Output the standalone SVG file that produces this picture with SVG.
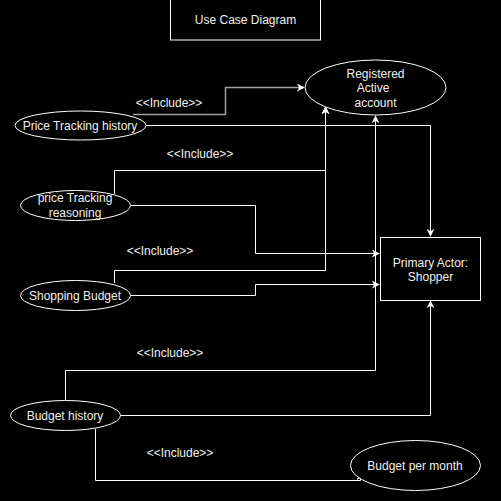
<svg xmlns="http://www.w3.org/2000/svg" width="501" height="501" viewBox="0 0 501 501">
<style>
.shape{fill:#000;stroke:#fff;stroke-width:1}
.t{font-family:"Liberation Sans",Arial,sans-serif;font-size:12px;fill:#f0f0f0;text-anchor:middle}
.e{fill:none;stroke:#fff;stroke-width:1}
.g{fill:none;stroke:#a0a0a0;stroke-width:1.5}
</style>
<defs>
<marker id="a" viewBox="0 0 10 10" refX="9" refY="5" markerWidth="8" markerHeight="8" markerUnits="userSpaceOnUse" orient="auto">
<path d="M0,0 L10,5 L0,10 L3,5 Z" fill="#fff"/>
</marker>
</defs>
<rect width="501" height="501" fill="#000"/>
<g id="connectors">
<path class="g" d="M133,114.5 H225.5 V87.5 H304" marker-end="url(#a)"/>
<path class="e" d="M146,125.5 H430.5 V236" marker-end="url(#a)"/>
<path class="e" d="M114.5,194 V170.5 H325.5 V107" marker-end="url(#a)"/>
<path class="e" d="M131,205.5 H255.5 V253.5 H379" marker-end="url(#a)"/>
<path class="e" d="M114.5,283 V270.5 H325.5 V107" marker-end="url(#a)"/>
<path class="e" d="M131,295.5 H255.5 V284.5 H379" marker-end="url(#a)"/>
<path class="e" d="M65.5,400 V370.5 H375.5 V116" marker-end="url(#a)"/>
<path class="e" d="M120,415.5 H430.5 V301" marker-end="url(#a)"/>
<path class="e" d="M95.5,429 V480.5 H360.5 V473" marker-end="url(#a)"/>
<text class="t" x="169" y="107">&lt;&lt;Include&gt;&gt;</text>
<text class="t" x="200" y="158">&lt;&lt;Include&gt;&gt;</text>
<text class="t" x="160" y="255">&lt;&lt;Include&gt;&gt;</text>
<text class="t" x="170" y="357">&lt;&lt;Include&gt;&gt;</text>
<text class="t" x="180" y="457">&lt;&lt;Include&gt;&gt;</text>
</g>
<g id="title">
<rect class="shape" x="170.5" y="-1" width="150" height="41"/>
<text class="t" x="245.5" y="24">Use Case Diagram</text>
</g>
<g id="registered">
<ellipse class="shape" cx="375.5" cy="87.5" rx="70.5" ry="27.5"/>
<text class="t" x="375.5" y="78">Registered</text>
<text class="t" x="373" y="92">Active</text>
<text class="t" x="375.5" y="107">account</text>
</g>
<g id="shopper">
<rect class="shape" x="380.5" y="237.5" width="100" height="63"/>
<text class="t" x="430.5" y="267">Primary Actor:</text>
<text class="t" x="430.5" y="281">Shopper</text>
</g>
<g id="pth">
<ellipse class="shape" cx="80.5" cy="125.5" rx="65.5" ry="14.5"/>
<text class="t" x="80" y="129.5">Price Tracking history</text>
</g>
<g id="ptr">
<ellipse class="shape" cx="75.5" cy="205.5" rx="55" ry="15"/>
<text class="t" x="75" y="202">price Tracking</text>
<text class="t" x="75" y="217">reasoning</text>
</g>
<g id="sb">
<ellipse class="shape" cx="75.5" cy="295.5" rx="55" ry="15"/>
<text class="t" x="75" y="299.5">Shopping Budget</text>
</g>
<g id="bh">
<ellipse class="shape" cx="65.5" cy="415.5" rx="55" ry="15"/>
<text class="t" x="65" y="419.5">Budget history</text>
</g>
<g id="bpm">
<ellipse class="shape" cx="415.5" cy="465.5" rx="65" ry="25"/>
<text class="t" x="415" y="469.5">Budget per month</text>
</g>
</svg>
